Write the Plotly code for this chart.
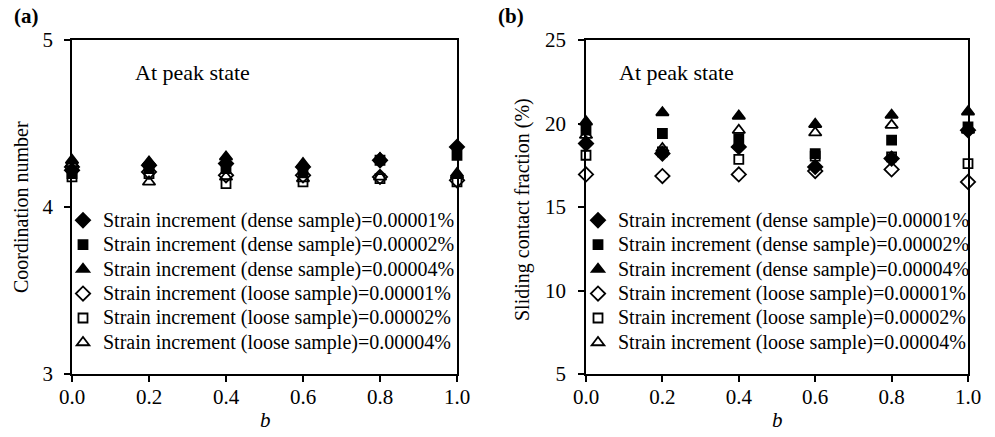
import plotly.graph_objects as go

# ---------------- data ----------------
b_values = [0.0, 0.2, 0.4, 0.6, 0.8, 1.0]

series_labels = [
    "Strain increment (dense sample)=0.00001%",
    "Strain increment (dense sample)=0.00002%",
    "Strain increment (dense sample)=0.00004%",
    "Strain increment (loose sample)=0.00001%",
    "Strain increment (loose sample)=0.00002%",
    "Strain increment (loose sample)=0.00004%",
]

# (a) coordination number at peak state
coord_dense_1 = [4.22, 4.25, 4.26, 4.24, 4.28, 4.36]
coord_dense_2 = [4.20, 4.23, 4.23, 4.21, 4.28, 4.31]
coord_dense_4 = [4.28, 4.27, 4.30, 4.26, 4.29, 4.20]
coord_loose_1 = [4.24, 4.21, 4.19, 4.19, 4.18, 4.16]
coord_loose_2 = [4.18, 4.20, 4.14, 4.15, 4.17, 4.15]
coord_loose_4 = [4.26, 4.15, 4.18, 4.17, 4.18, 4.19]

# (b) sliding contact fraction (%) at peak state
slide_dense_1 = [18.8, 18.2, 18.6, 17.4, 17.9, 19.6]
slide_dense_2 = [19.6, 19.4, 19.1, 18.2, 19.0, 19.8]
slide_dense_4 = [20.1, 20.65, 20.45, 19.95, 20.5, 20.7]
slide_loose_1 = [16.95, 16.85, 16.95, 17.15, 17.25, 16.5]
slide_loose_2 = [18.1, 18.3, 17.85, 18.05, 18.0, 17.6]
slide_loose_4 = [19.3, 18.5, 19.6, 19.45, 19.9, 19.6]

x_ticks = [0.0, 0.2, 0.4, 0.6, 0.8, 1.0]
y_ticks_a = [3, 4, 5]
y_ticks_b = [5, 10, 15, 20, 25]

# ---------------- styles ----------------
symbols = ["diamond", "square", "triangle-up",
           "diamond-open", "square-open", "triangle-up-open"]
sizes = [11, 9, 11, 11, 9, 11]
FONT = "Liberation Serif"
LEG_TXT = 20

fig = go.Figure()

coord_sets = [coord_dense_1, coord_dense_2, coord_dense_4,
              coord_loose_1, coord_loose_2, coord_loose_4]
slide_sets = [slide_dense_1, slide_dense_2, slide_dense_4,
              slide_loose_1, slide_loose_2, slide_loose_4]

for i, (lab, ys) in enumerate(zip(series_labels, coord_sets)):
    fig.add_trace(go.Scatter(
        x=b_values, y=ys, mode="markers",
        name=f'<span style="font-size:{LEG_TXT}px">{lab}</span>',
        marker=dict(symbol=symbols[i], size=sizes[i], color="black",
                    line=dict(color="black", width=1.8)),
        xaxis="x", yaxis="y", legend="legend", cliponaxis=False,
    ))

for i, (lab, ys) in enumerate(zip(series_labels, slide_sets)):
    fig.add_trace(go.Scatter(
        x=b_values, y=ys, mode="markers",
        name=f'<span style="font-size:{LEG_TXT}px">{lab}</span>',
        marker=dict(symbol=symbols[i], size=sizes[i], color="black",
                    line=dict(color="black", width=1.8)),
        xaxis="x2", yaxis="y2", legend="legend2", cliponaxis=False,
    ))

W, H = 995, 437
T, B = 40, 63
plot_h = H - T - B

def px_x(p):
    return p / W

def px_y(p):
    return (H - B - p) / plot_h

axis_common = dict(
    showline=True, linecolor="black", linewidth=1.5, mirror=True,
    ticks="outside", ticklen=6, tickwidth=1.5, tickcolor="black",
    showgrid=False, zeroline=False, automargin=False,
    tickfont=dict(family=FONT, size=21, color="black"),
)

fig.update_layout(
    width=W, height=H,
    margin=dict(l=0, r=0, t=T, b=B, autoexpand=False),
    paper_bgcolor="white", plot_bgcolor="white",
    font=dict(family=FONT, size=20, color="black"),
    xaxis=dict(domain=[px_x(72), px_x(457)], range=[0, 1], tickvals=x_ticks,
               tickformat=".1f", anchor="y", ticklabelstandoff=-3, **axis_common),
    yaxis=dict(range=[3, 5], tickvals=y_ticks_a, anchor="x",
               ticklabelstandoff=7, **axis_common),
    xaxis2=dict(domain=[px_x(586), px_x(968)], range=[0, 1], tickvals=x_ticks,
                tickformat=".1f", anchor="y2", ticklabelstandoff=-3, **axis_common),
    yaxis2=dict(range=[5, 25], tickvals=y_ticks_b, anchor="x2",
                ticklabelstandoff=8, **axis_common),
    legend=dict(x=px_x(63), y=px_y(203), xanchor="left", yanchor="top",
                bgcolor="rgba(0,0,0,0)", borderwidth=0, itemwidth=30,
                font=dict(family=FONT, size=16.5, color="black")),
    legend2=dict(x=px_x(578), y=px_y(203), xanchor="left", yanchor="top",
                 bgcolor="rgba(0,0,0,0)", borderwidth=0, itemwidth=30,
                 font=dict(family=FONT, size=16.5, color="black")),
    showlegend=True,
)

ann = [
    dict(text="<b>(a)</b>", x=px_x(12), y=px_y(16), xanchor="left", yanchor="middle",
         font=dict(size=21)),
    dict(text="<b>(b)</b>", x=px_x(496), y=px_y(16), xanchor="left", yanchor="middle",
         font=dict(size=21)),
    dict(text="At peak state", x=px_x(133), y=px_y(72), xanchor="left", yanchor="middle",
         font=dict(size=22)),
    dict(text="At peak state", x=px_x(617), y=px_y(72), xanchor="left", yanchor="middle",
         font=dict(size=22)),
    dict(text="Coordination number", x=px_x(21), y=px_y(207), textangle=-90,
         xanchor="center", yanchor="middle", font=dict(size=20)),
    dict(text="Sliding contact fraction (%)", x=px_x(522), y=px_y(210), textangle=-90,
         xanchor="center", yanchor="middle", font=dict(size=20)),
    dict(text="<i>b</i>", x=px_x(265), y=px_y(420), xanchor="center", yanchor="middle",
         font=dict(size=21)),
    dict(text="<i>b</i>", x=px_x(777), y=px_y(420), xanchor="center", yanchor="middle",
         font=dict(size=21)),
]
for a in ann:
    a.update(xref="paper", yref="paper", showarrow=False)
fig.update_layout(annotations=ann)

fig.write_html(
    "out.html",
    config={"displayModeBar": False},
    post_script="document.body.style.margin='0';document.body.style.padding='0';",
)
